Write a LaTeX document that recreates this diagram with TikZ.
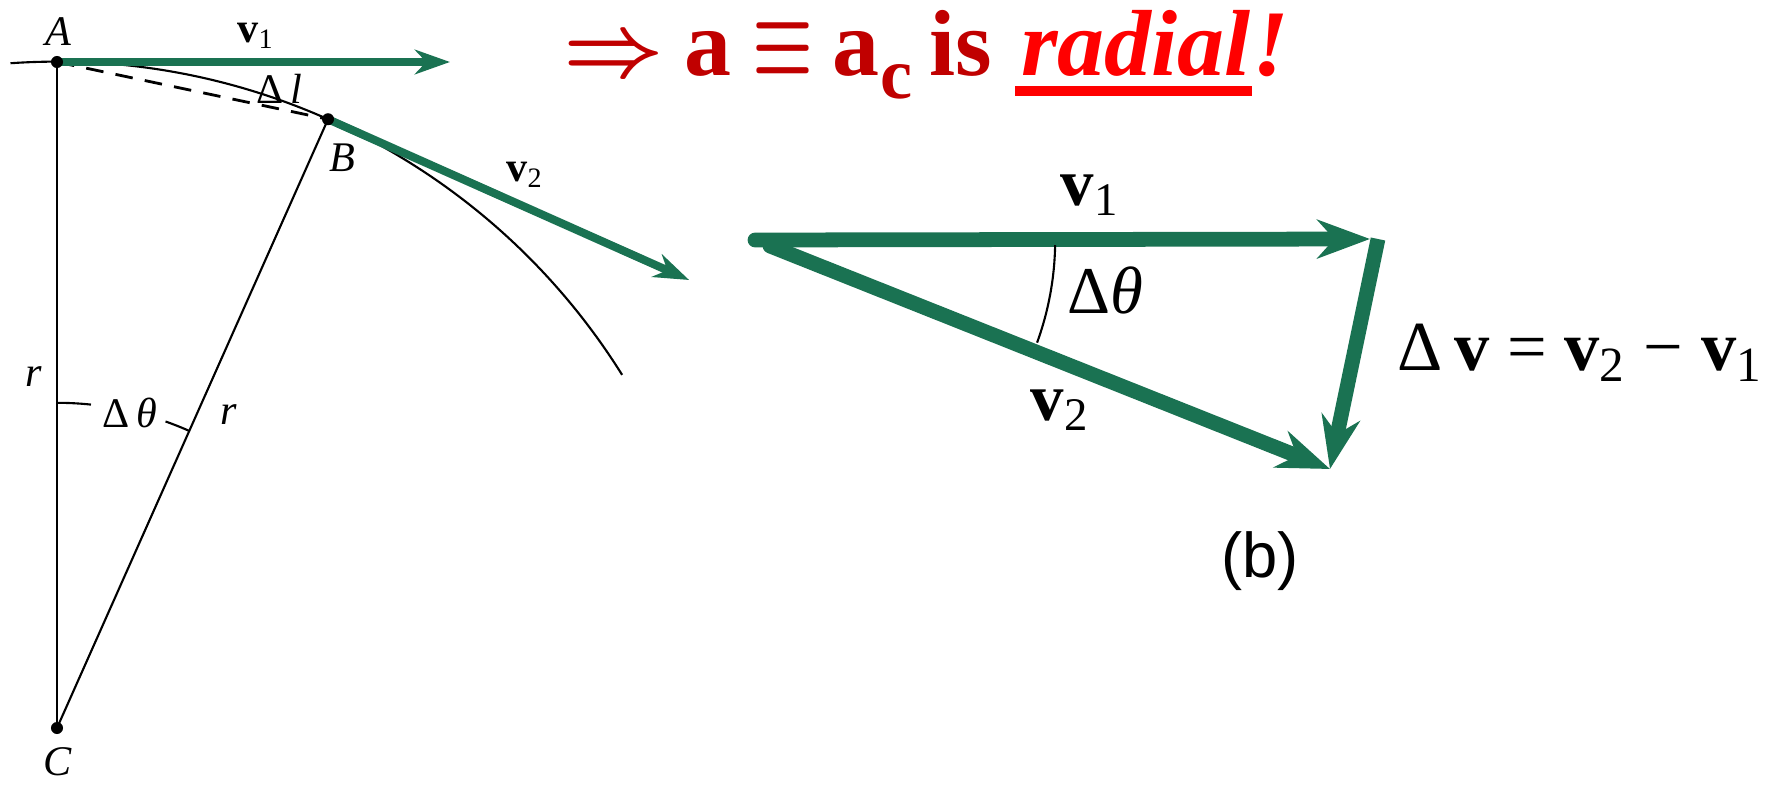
\documentclass[tikz,border=0pt]{standalone}
\usepackage{fontspec}
\usepackage{graphicx}
\setmainfont{Liberation Serif}
\newfontfamily\labelsans{Liberation Sans}
\usetikzlibrary{arrows.meta,positioning}
\definecolor{vgreen}{RGB}{26,114,82}
\definecolor{darkred}{RGB}{192,0,0}
\definecolor{brightred}{RGB}{255,0,0}
\newcommand{\bolddarrow}{{\color{darkred}\boldmath$\Rightarrow$}}
\newcommand{\boldequiv}{{\color{darkred}\boldmath$\equiv$}}

\begin{document}
\begin{tikzpicture}[x=0.01cm, y=0.01cm, line width=0.6pt,
    vecL/.style={vgreen, line width=2.3pt, -{Stealth[length=10pt,width=7pt]}},
    vecR/.style={vgreen, line width=4.2pt, -{Stealth[length=15pt,width=11pt]}},
    small/.style={font=\fontsize{12}{14}\selectfont},
    big/.style={font=\fontsize{19}{22}\selectfont},
    headline/.style={anchor=base west, inner sep=0pt, text=darkred, font=\fontsize{26.7}{30}\selectfont\bfseries},
    headit/.style={headline, text=brightred, font=\fontsize{26.7}{30}\selectfont\bfseries\itshape}]
    \useasboundingbox (0,0) rectangle (1765,787);
    \coordinate (C) at (57,59);
    \coordinate (A) at (57,725);
    \coordinate (B) at ([shift={(66:6.66cm)}]C);
    \coordinate (v1end) at (450,725);
    \coordinate (v2end) at ([shift={(-24:3.95cm)}]B);
    \draw ([shift={(94:6.66cm)}]C) arc[start angle=94, end angle=32, radius=6.66cm];
    \draw (C) -- (A);
    \draw (C) -- (B);
    \draw[dashed, line width=0.8pt, dash pattern=on 5pt off 3.5pt] (A) -- (B);
    \draw ([shift={(90:3.25cm)}]C) arc[start angle=90, end angle=84, radius=3.25cm];
    \draw ([shift={(70.5:3.25cm)}]C) arc[start angle=70.5, end angle=66, radius=3.25cm];
    \draw[vecL] (A) -- (v1end);
    \draw[vecL] (B) -- (v2end);
    \foreach \p in {A,B,C} \fill (\p) circle (0.06cm);
    \node[small] (labA) at (58,755) {\textit{A}};
    \node[small] (labv1) at (256,751) {\textbf{v}\textsubscript{1}};
    \node[small] (labdl) at (279,698) {Δ\,\textit{l}};
    \node[small] (labB) at (342,629) {\textit{B}};
    \node[small] (labv2) at (525,612) {\textbf{v}\textsubscript{2}};
    \node[small] (labr1) at (34,410) {\textit{r}};
    \node[small] (labdt) at ([shift={(77:3.23cm)}]C) {Δ\,\textit{θ}};
    \node[small] (labr2) at (229,372) {\textit{r}};
    \node[small] (labC) at (58,25) {\textit{C}};

    \coordinate (O) at (755,547);
    \coordinate (O2) at (770,541);
    \coordinate (P1) at (1370,548);
    \coordinate (Q) at (1378,548);
    \coordinate (P2) at (1330,318);
    \draw[vecR, line cap=round] (O) -- (P1);
    \draw[vecR, line cap=round] (O2) -- (P2);
    \draw[vecR] (Q) -- (P2);
    \draw ([shift={(-1:3cm)}]O) arc[start angle=-1, end angle=-20, radius=3cm];
    \node[big] (rv1) at (1090,592) {\textbf{v}\textsubscript{1}};
    \node[big] (rdt) at (1105,497) {Δ\textit{θ}};
    \node[big] (rv2) at (1060,377) {\textbf{v}\textsubscript{2}};
    \node[anchor=west, font=\fontsize{20}{24}\selectfont] (rdv) at (1385,434) {Δ\,\textbf{v} = \textbf{v}\textsubscript{2} − \textbf{v}\textsubscript{1}};
    \node[font=\labelsans\fontsize{18}{20}\selectfont] (labb) at (1260,226) {(b)};

    \node[headline] (impl) at (562,711) {\bolddarrow};
    \node[headline] (acc) at (683,711) {a};
    \node[headline] (equiv) at (751,713) {\scalebox{0.78}[1.15]{\boldequiv}};
    \node[headline] (accc) at (831,711) {a};
    \node[headline, font=\fontsize{20.5}{22}\selectfont\bfseries] (csub) at (879,688) {c};
    \node[headline] (is) at (928,711) {is};
    \node[headit] (rad) at (1020,711) {radial};
    \node[headit] (bang) at (rad.base east) {!};
    \fill[brightred] ([shift={(-0.05cm,-0.1cm)}]rad.base west) rectangle ([yshift=-0.2cm]rad.base east);
\end{tikzpicture}
\end{document}
